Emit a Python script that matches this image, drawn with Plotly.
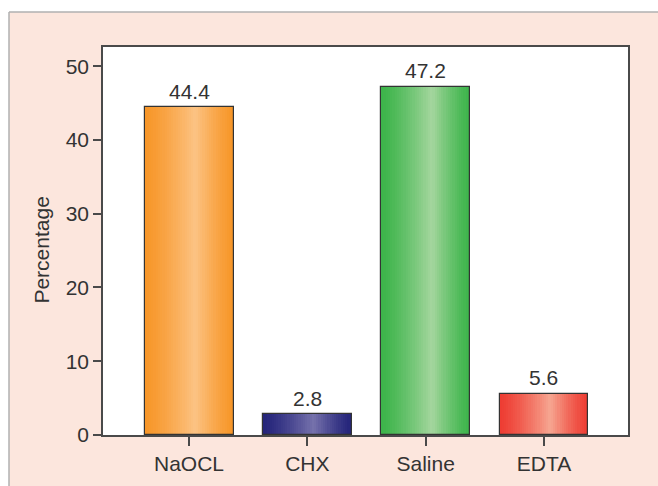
import plotly.graph_objects as go

categories = ["NaOCL", "CHX", "Saline", "EDTA"]
values = [44.4, 2.8, 47.2, 5.6]
labels = ["44.4", "2.8", "47.2", "5.6"]
y_ticks = [0, 10, 20, 30, 40, 50]

edge_colors = [(247, 150, 40), (36, 36, 122), (60, 180, 74), (238, 60, 50)]
light_colors = [(252, 195, 132), (118, 114, 172), (165, 214, 158), (246, 166, 145)]

W, H = 658, 486
ML, MR, MT, MB = 103, 30, 47, 51
PW, PH = W - ML - MR, H - MT - MB

bar_w = 0.752
N = 40
peak = 0.57
FS = 21


def mix(c1, c2, f):
    return "rgb(%d,%d,%d)" % tuple(round(a + (b - a) * f) for a, b in zip(c1, c2))


fig = go.Figure()
for i in range(N):
    t = (i + 0.5) / N
    d = abs(t - peak) / (peak if t < peak else 1 - peak)
    f = max(0.0, 1 - d) ** 1.3
    cols = [mix(e, l, f) for e, l in zip(edge_colors, light_colors)]
    sw = bar_w / N
    extra = sw * 0.6 if i < N - 1 else 0
    fig.add_trace(go.Bar(
        x=categories, y=values,
        width=[sw + extra] * len(categories),
        offset=[-bar_w / 2 + i * sw] * len(categories),
        marker=dict(color=cols, line=dict(width=0)),
        hoverinfo="skip", showlegend=False,
    ))

fig.add_trace(go.Bar(
    x=categories, y=values, width=[bar_w] * len(categories),
    marker=dict(color="rgba(0,0,0,0)", line=dict(color="#333333", width=1.2)),
    showlegend=False,
))

font_c = "#333333"
for c, v, s in zip(categories, values, labels):
    fig.add_annotation(x=c, y=v, text=s, showarrow=False, yanchor="middle",
                       yshift=16, font=dict(size=FS, color=font_c))

fig.add_annotation(xref="paper", yref="y", x=(42 - ML) / PW, y=25, text="Percentage",
                   textangle=-90, showarrow=False, xanchor="center", yanchor="middle",
                   font=dict(size=FS, color=font_c))


def px(x):
    return (x - ML) / PW


def py(y):
    return (H - MB - y) / PH


shapes = [
    dict(type="rect", xref="paper", yref="paper", x0=px(-5), x1=px(W + 5), y0=py(12), y1=py(-5),
         fillcolor="white", line=dict(width=0), layer="below"),
    dict(type="rect", xref="paper", yref="paper", x0=px(-5), x1=px(9), y0=py(H + 5), y1=py(-5),
         fillcolor="white", line=dict(width=0), layer="below"),
    dict(type="line", xref="paper", yref="paper", x0=px(9), x1=px(W + 5), y0=py(12), y1=py(12),
         line=dict(color="#b0b0b0", width=1.5)),
    dict(type="line", xref="paper", yref="paper", x0=px(9), x1=px(9), y0=py(12), y1=py(H + 5),
         line=dict(color="#b0b0b0", width=1.5)),
]

fig.update_layout(
    width=W, height=H,
    margin=dict(l=ML, r=MR, t=MT, b=MB, pad=0),
    paper_bgcolor="#fce6dd", plot_bgcolor="white",
    barmode="overlay", bargap=0,
    font=dict(family="Liberation Sans, Arial, sans-serif", size=FS, color=font_c),
    shapes=shapes,
    xaxis=dict(type="category", range=[-0.727, 3.71], showline=True, mirror=True,
               linecolor="#4a4a4a", linewidth=1.5, ticks="outside", ticklen=9,
               tickcolor="#4a4a4a", tickwidth=1.5, showgrid=False, zeroline=False,
               tickfont=dict(size=FS, color=font_c)),
    yaxis=dict(range=[0, 52.6], tickvals=y_ticks, showline=True, mirror=True,
               linecolor="#4a4a4a", linewidth=1.5, ticks="outside", ticklen=8,
               tickcolor="#4a4a4a", tickwidth=1.5, showgrid=False, zeroline=False,
               tickfont=dict(size=FS, color=font_c)),
)

fig.write_html("out.html")
